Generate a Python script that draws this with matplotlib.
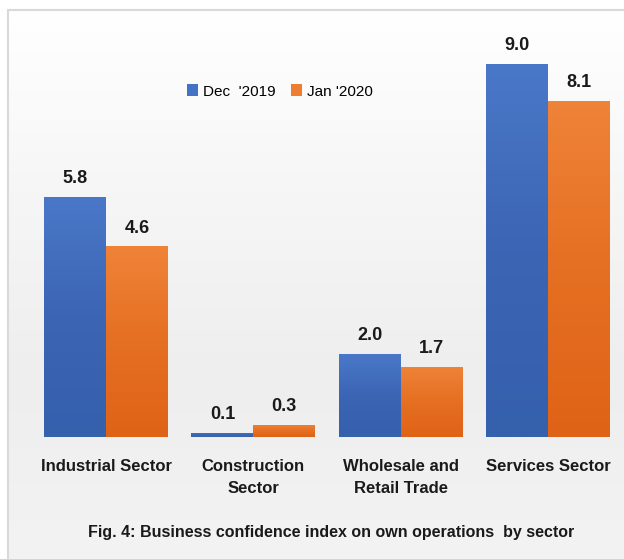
import matplotlib
matplotlib.use("Agg")
import matplotlib.pyplot as plt
import numpy as np
from matplotlib.colors import LinearSegmentedColormap

categories = ["Industrial Sector", "Construction\nSector", "Wholesale and\nRetail Trade", "Services Sector"]
dec_2019 = [5.8, 0.1, 2.0, 9.0]
jan_2020 = [4.6, 0.3, 1.7, 8.1]
series_names = ["Dec  '2019", "Jan '2020"]
title = "Fig. 4: Business confidence index on own operations  by sector"

FONT = ["Liberation Sans Narrow", "Liberation Sans", "DejaVu Sans"]
plt.rcParams['font.family'] = FONT

W, H = 624, 559
fig = plt.figure(figsize=(W/100, H/100), dpi=100)

# background frame with gradient
bg = fig.add_axes([8/W, 0, 1 - 8/W, 1 - 10/H])
grad = np.linspace(0, 1, 256).reshape(-1, 1)
bg_cmap = LinearSegmentedColormap.from_list("bg", ["#ffffff", "#f6f6f6", "#eeeeee", "#f3f3f3"])
bg.imshow(grad, aspect="auto", cmap=bg_cmap, extent=[0, 1, 0, 1], origin="upper")
bg.set_xlim(0, 1); bg.set_ylim(0, 1)
bg.set_xticks([]); bg.set_yticks([])
for s in ["bottom", "right"]:
    bg.spines[s].set_visible(False)
for s in ["top", "left"]:
    bg.spines[s].set_color("#d9d9d9")
    bg.spines[s].set_linewidth(1.5)

x0, x1 = 17.6, 621.7
ybase, ytop = 437, 10
ax = fig.add_axes([x0/W, 1 - ybase/H, (x1 - x0)/W, (ybase - ytop)/H])
ax.patch.set_alpha(0)
ax.set_xlim(-0.6, 3.5)
ax.set_ylim(0, 10.3)
for s in ax.spines.values():
    s.set_visible(False)
ax.set_yticks([])

x = np.arange(len(categories))
bw = 0.42
blue_cmap = LinearSegmentedColormap.from_list("b", ["#4a78c8", "#3c65b4", "#3560ac"])
orange_cmap = LinearSegmentedColormap.from_list("o", ["#ef8338", "#e56f22", "#df6317"])

def draw(xs, vals, cmap, color):
    bars = ax.bar(xs, vals, width=bw, color=color, zorder=2)
    for b in bars:
        bx, by = b.get_x(), b.get_y()
        bwid, bh = b.get_width(), b.get_height()
        im = ax.imshow(grad, aspect="auto", cmap=cmap, origin="upper",
                       extent=[bx, bx + bwid, by, by + bh], zorder=3)
        im.set_clip_path(b)
    for xi, v in zip(xs, vals):
        ax.annotate(f"{v:.1f}", (xi, v), xytext=(0, 7), textcoords="offset points",
                    ha="center", va="bottom", fontsize=13, fontweight="bold", color="#1a1a1a")
    return bars

b1 = draw(x - bw/2, dec_2019, blue_cmap, "#4472c4")
b2 = draw(x + bw/2, jan_2020, orange_cmap, "#ed7d31")
ax.set_xlim(-0.6, 3.5)
ax.set_ylim(0, 10.3)

ax.set_xticks(x)
ax.set_xticklabels(categories, fontsize=12, fontweight="bold", color="#1a1a1a", linespacing=1.55)
ax.tick_params(axis="x", length=0, pad=16)

leg = ax.legend([b1, b2], series_names, loc="upper left", bbox_to_anchor=(0.258, 0.858),
                ncol=2, frameon=False, fontsize=11, handlelength=0.7, handleheight=0.8,
                handletextpad=0.35, columnspacing=1.0)

fig.text(0.53, 1 - 532/H, title, ha="center", va="center", fontsize=11.5,
         fontweight="bold", color="#1a1a1a")

fig.savefig("out.png", dpi=100)
